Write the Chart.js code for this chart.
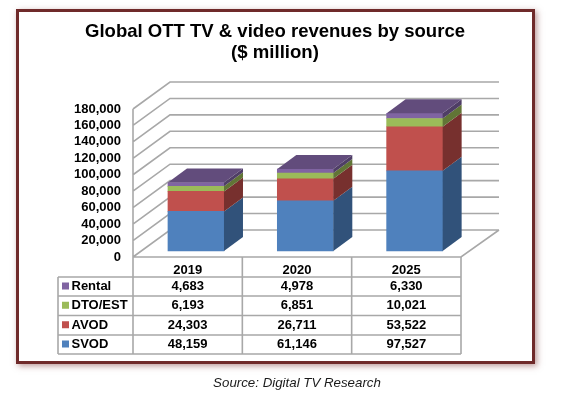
<!DOCTYPE html>
<html>
<head>
<meta charset="utf-8">
<script src="https://cdn.jsdelivr.net/npm/chart.js@4"></script>
<style>
html,body{margin:0;padding:0;background:#fff;width:567px;height:395px;overflow:hidden}
#frame{position:absolute;left:16px;top:9px;width:519px;height:355px;box-sizing:border-box;border:3px solid #6f2a2a;box-shadow:2px 2px 6px rgba(120,50,50,.5)}
canvas{position:absolute;left:0;top:0}
</style>
</head>
<body>
<div id="frame"></div>
<canvas id="c" width="567" height="395"></canvas>
<script>
const years = ['2019', '2020', '2025'];
const rental = [4683, 4978, 6330];
const dtoEst = [6193, 6851, 10021];
const avod = [24303, 26711, 53522];
const svod = [48159, 61146, 97527];
const titleLines = ['Global OTT TV & video revenues by source', '($ million)'];
const sourceNote = 'Source: Digital TV Research';

const FONT = '"Liberation Sans", Arial, sans-serif';
const GRID = '#a8a8a8';
const series = [
  {label: 'SVOD', values: svod, front: '#4f81bd', side: '#31527a'},
  {label: 'AVOD', values: avod, front: '#c0504d', side: '#77302e'},
  {label: 'DTO/EST', values: dtoEst, front: '#9bbb59', side: '#617536'},
  {label: 'Rental', values: rental, front: '#8064a2', side: '#4f3e66', top: '#624c7c'}
];
const tableRows = [series[3], series[2], series[1], series[0]];

const scene3d = {
  id: 'scene3d',
  afterLayout(chart) {
    const t = chart.titleBlock;
    t.left = 85; t.right = 465;
  },
  beforeDatasetsDraw(chart) {
    const ctx = chart.ctx, y = chart.scales.y, a = chart.chartArea;
    const dx = 37, dy = 27;
    ctx.save();
    ctx.strokeStyle = GRID;
    ctx.lineWidth = 1.6;
    ctx.beginPath();
    y.ticks.forEach(t => {
      const p = y.getPixelForValue(t.value);
      ctx.moveTo(a.left, p);
      ctx.lineTo(a.left + dx, p - dy);
      ctx.lineTo(a.right + dx + 1, p - dy);
    });
    const p0 = y.getPixelForValue(0);
    ctx.moveTo(a.left, p0);
    ctx.lineTo(a.right, p0);
    ctx.lineTo(a.right + dx + 1, p0 - dy);
    ctx.moveTo(a.left, y.getPixelForValue(180000));
    ctx.lineTo(a.left, p0);
    ctx.stroke();
    ctx.restore();
  },
  afterDatasetsDraw(chart) {
    const ctx = chart.ctx, dx = 19, dy = 14;
    ctx.save();
    series.forEach((s, i) => {
      chart.getDatasetMeta(i).data.forEach(el => {
        const {x, y, base, width} = el.getProps(['x', 'y', 'base', 'width'], true);
        const r = x + width / 2, l = x - width / 2;
        ctx.fillStyle = s.side;
        ctx.beginPath();
        ctx.moveTo(r, y); ctx.lineTo(r + dx, y - dy);
        ctx.lineTo(r + dx, base - dy); ctx.lineTo(r, base);
        ctx.closePath(); ctx.fill();
        if (s.top) {
          ctx.fillStyle = s.top;
          ctx.beginPath();
          ctx.moveTo(l, y); ctx.lineTo(l + dx, y - dy);
          ctx.lineTo(r + dx, y - dy); ctx.lineTo(r, y);
          ctx.closePath(); ctx.fill();
        }
      });
    });
    ctx.restore();
  },
  afterDraw(chart) {
    const ctx = chart.ctx, a = chart.chartArea, xs = chart.scales.xTick;
    const rowY = [277, 296, 315.5, 335, 354];
    const tableLeft = 58;
    const colW = (a.right - a.left) / years.length;
    ctx.save();
    ctx.strokeStyle = GRID;
    ctx.lineWidth = 1.6;
    ctx.beginPath();
    rowY.forEach(v => { ctx.moveTo(tableLeft, v); ctx.lineTo(a.right, v); });
    ctx.moveTo(tableLeft, rowY[0]); ctx.lineTo(tableLeft, rowY[4]);
    for (let i = 0; i <= years.length; i++) {
      ctx.moveTo(a.left + i * colW, a.bottom);
      ctx.lineTo(a.left + i * colW, rowY[4]);
    }
    ctx.stroke();
    ctx.font = 'bold 13px ' + FONT;
    ctx.textBaseline = 'middle';
    ctx.fillStyle = '#000';
    tableRows.forEach((s, r) => {
      const cy = (rowY[r] + rowY[r + 1]) / 2;
      ctx.fillStyle = s.front;
      ctx.fillRect(62, cy - 4, 7, 7);
      ctx.fillStyle = '#000';
      ctx.textAlign = 'left';
      ctx.fillText(s.label, 71.5, cy);
      ctx.textAlign = 'center';
      s.values.forEach((v, i) => {
        ctx.fillText(v.toLocaleString('en-US'), xs.getPixelForTick(i), cy);
      });
    });
    ctx.font = 'italic 13.3px ' + FONT;
    ctx.fillStyle = '#1a1a1a';
    ctx.textAlign = 'center';
    ctx.fillText(sourceNote, 297, 383);
    ctx.restore();
  }
};

new Chart(document.getElementById('c'), {
  type: 'bar',
  data: {
    labels: years,
    datasets: series.map(s => ({
      label: s.label,
      data: s.values.map((v, i) => ({x: i, y: v})),
      backgroundColor: s.front,
      borderWidth: 0,
      xAxisID: 'xBar',
      yAxisID: 'yBar',
      barThickness: 56,
      clip: false
    }))
  },
  options: {
    responsive: false,
    animation: false,
    locale: 'en-US',
    layout: {padding: {left: 0, right: 106, top: 0, bottom: 0}},
    plugins: {
      legend: {display: false},
      tooltip: {enabled: false},
      title: {
        display: true,
        text: titleLines,
        color: '#000',
        font: {family: FONT, size: 18.6, weight: 'bold', lineHeight: 1.15},
        padding: {top: 21, bottom: 45.2}
      }
    },
    scales: {
      y: {
        type: 'linear', position: 'left', min: 0, max: 180000,
        grid: {display: false}, border: {display: false},
        ticks: {stepSize: 20000, autoSkip: false, padding: 4, color: '#000',
                font: {family: FONT, size: 13, weight: 'bold'}},
        afterFit(s) { s.width = 133; }
      },
      yBar: {type: 'linear', position: 'left', display: false, stacked: true, min: -7300, max: 172700},
      xTick: {
        type: 'category', position: 'bottom', offset: true,
        grid: {display: false}, border: {display: false},
        ticks: {padding: -2, color: '#000', maxRotation: 0,
                font: {family: FONT, size: 13, weight: 'bold'}},
        afterFit(s) { s.height = 138; }
      },
      xBar: {type: 'linear', position: 'bottom', display: false, stacked: true, offset: false, min: -0.576, max: 2.424}
    }
  },
  plugins: [scene3d]
});
</script>
</body>
</html>
